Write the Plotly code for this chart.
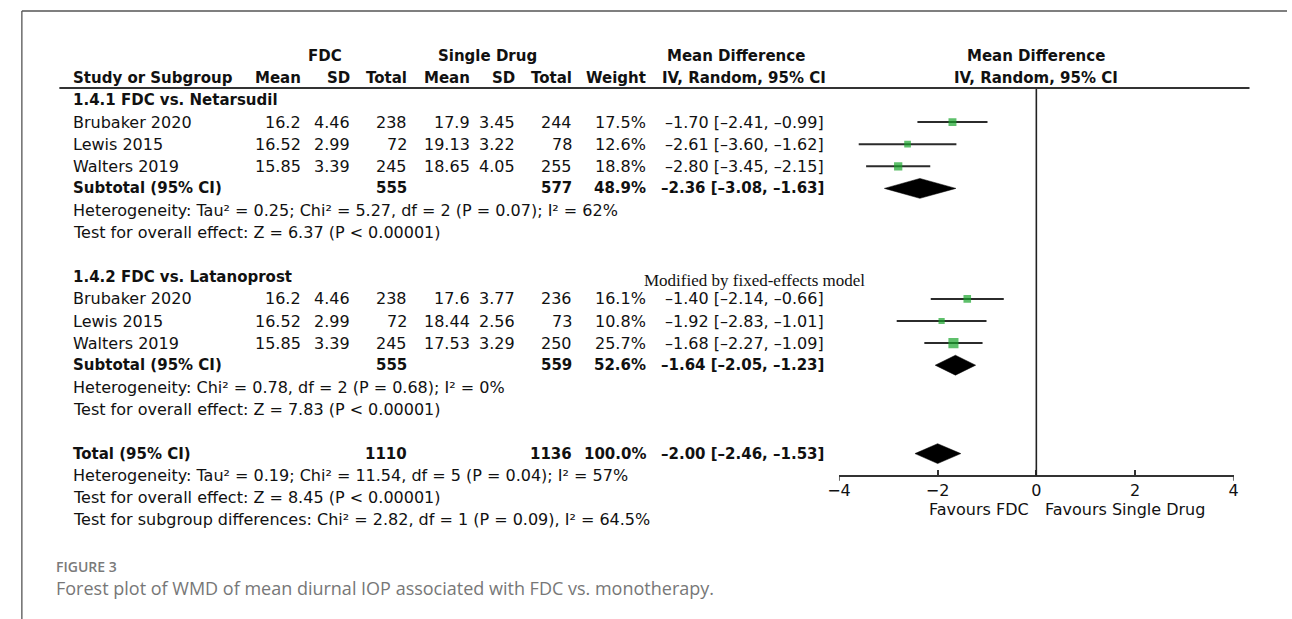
import plotly.graph_objects as go

# ---------------- data ----------------
study_names = ["Brubaker 2020", "Lewis 2015", "Walters 2019",
               "Brubaker 2020", "Lewis 2015", "Walters 2019"]
study_group = [0, 0, 0, 1, 1, 1]
fdc_mean = [16.2, 16.52, 15.85, 16.2, 16.52, 15.85]
fdc_sd = [4.46, 2.99, 3.39, 4.46, 2.99, 3.39]
fdc_total = [238, 72, 245, 238, 72, 245]
single_mean = [17.9, 19.13, 18.65, 17.6, 18.44, 17.53]
single_sd = [3.45, 3.22, 4.05, 3.77, 2.56, 3.29]
single_total = [244, 78, 255, 236, 73, 250]
weight_pct = [17.5, 12.6, 18.8, 16.1, 10.8, 25.7]
md = [-1.70, -2.61, -2.80, -1.40, -1.92, -1.68]
ci_low = [-2.41, -3.60, -3.45, -2.14, -2.83, -2.27]
ci_high = [-0.99, -1.62, -2.15, -0.66, -1.01, -1.09]

group_labels = ["1.4.1 FDC vs. Netarsudil", "1.4.2 FDC vs. Latanoprost"]
sub_fdc_total = [555, 555]
sub_single_total = [577, 559]
sub_weight = [48.9, 52.6]
sub_md = [-2.36, -1.64]
sub_low = [-3.08, -2.05]
sub_high = [-1.63, -1.23]
group_het = ["Heterogeneity: Tau² = 0.25; Chi² = 5.27, df = 2 (P = 0.07); I² = 62%",
             "Heterogeneity: Chi² = 0.78, df = 2 (P = 0.68); I² = 0%"]
group_test = ["Test for overall effect: Z = 6.37 (P < 0.00001)",
              "Test for overall effect: Z = 7.83 (P < 0.00001)"]
group_note = ["", "Modified by fixed-effects model"]

total_fdc = 1110
total_single = 1136
total_weight = 100.0
total_md = -2.00
total_low = -2.46
total_high = -1.53
total_notes = ["Heterogeneity: Tau² = 0.19; Chi² = 11.54, df = 5 (P = 0.04); I² = 57%",
               "Test for overall effect: Z = 8.45 (P < 0.00001)",
               "Test for subgroup differences: Chi² = 2.82, df = 1 (P = 0.09), I² = 64.5%"]

x_ticks = [-4, -2, 0, 2, 4]
x_tick_labels = ["−4", "−2", "0", "2", "4"]
favours_left = "Favours FDC"
favours_right = "Favours Single Drug"
figure_label = "FIGURE 3"
caption = "Forest plot of WMD of mean diurnal IOP associated with FDC vs. monotherapy."

# ---------------- layout constants ----------------
W, H = 1292, 619
ROW0_PX, ROW_PX = 100.0, 22.1
y_top = -ROW0_PX / ROW_PX
y_bot = (H - ROW0_PX) / ROW_PX
FONT = "DejaVu Sans"
TXT = "#111111"
REG, BLD = 16, 15
AXIS_ROW = 17

COL = dict(study=62, f_mean=293, f_sd=343, f_tot=400, s_mean=464, s_sd=510,
           s_tot=567, weight=642, md=823)


def fmt(v):
    return f"{v:.2f}".replace("-", "–")


def md_text(m, lo, hi):
    return f"{fmt(m)} [{fmt(lo)}, {fmt(hi)}]"


annotations = []


def cell(text, xpx, row, anchor="right", bold=False, size=None, family=FONT, color=TXT):
    annotations.append(dict(
        text=f"<b>{text}</b>" if bold else text,
        x=xpx / W, xref="paper", y=row, yref="y",
        xanchor=anchor, yanchor="middle", showarrow=False,
        borderpad=0, borderwidth=0,
        font=dict(family=family, size=size or (BLD if bold else REG), color=color)))


fig = go.Figure()

# headers
cell("FDC", 317, -2, "center", True)
cell("Single Drug", 482, -2, "center", True)
cell("Mean Difference", 734, -2, "center", True)
cell("Study or Subgroup", COL["study"], -1, "left", True)
cell("Mean", COL["f_mean"], -1, bold=True)
cell("SD", COL["f_sd"], -1, bold=True)
cell("Total", COL["f_tot"], -1, bold=True)
cell("Mean", COL["s_mean"], -1, bold=True)
cell("SD", COL["s_sd"], -1, bold=True)
cell("Total", COL["s_tot"], -1, bold=True)
cell("Weight", COL["weight"], -1, bold=True)
cell("IV, Random, 95% CI", 742, -1, "center", True)
for t, r in [("Mean Difference", -2), ("IV, Random, 95% CI", -1)]:
    annotations.append(dict(text=f"<b>{t}</b>", x=0, xref="x", y=r, yref="y",
                            xanchor="center", yanchor="middle", showarrow=False,
                            font=dict(family=FONT, size=BLD, color=TXT)))

# rows
study_rows = []
for g, glabel in enumerate(group_labels):
    base = g * 8
    cell(glabel, COL["study"], base, "left", True)
    idx = [i for i, sg in enumerate(study_group) if sg == g]
    for k, i in enumerate(idx):
        r = base + 1 + k
        study_rows.append(r)
        cell(study_names[i], COL["study"], r, "left")
        cell(str(fdc_mean[i]), COL["f_mean"], r)
        cell(f"{fdc_sd[i]:.2f}", COL["f_sd"], r)
        cell(str(fdc_total[i]), COL["f_tot"], r)
        cell(str(single_mean[i]), COL["s_mean"], r)
        cell(f"{single_sd[i]:.2f}", COL["s_sd"], r)
        cell(str(single_total[i]), COL["s_tot"], r)
        cell(f"{weight_pct[i]:.1f}%", COL["weight"], r)
        cell(md_text(md[i], ci_low[i], ci_high[i]), COL["md"], r)
    rs = base + 4
    cell("Subtotal (95% CI)", COL["study"], rs, "left", True)
    cell(str(sub_fdc_total[g]), COL["f_tot"], rs, bold=True)
    cell(str(sub_single_total[g]), COL["s_tot"], rs, bold=True)
    cell(f"{sub_weight[g]:.1f}%", COL["weight"], rs, bold=True)
    cell(md_text(sub_md[g], sub_low[g], sub_high[g]), COL["md"], rs, bold=True)
    cell(group_het[g], COL["study"], base + 5, "left")
    cell(group_test[g], COL["study"], base + 6, "left")
    if group_note[g]:
        cell(group_note[g], 640, base + 0.15, "left", size=17, family="Liberation Serif")

cell("Total (95% CI)", COL["study"], 16, "left", True)
cell(str(total_fdc), COL["f_tot"], 16, bold=True)
cell(str(total_single), COL["s_tot"], 16, bold=True)
cell(f"{total_weight:.1f}%", COL["weight"], 16, bold=True)
cell(md_text(total_md, total_low, total_high), COL["md"], 16, bold=True)
for k, t in enumerate(total_notes):
    cell(t, COL["study"], 17 + k, "left")

# forest: CI lines and squares
for i, r in zip(range(len(md)), study_rows):
    fig.add_trace(go.Scatter(x=[ci_low[i], ci_high[i]], y=[r, r], mode="lines",
                             line=dict(color="#2b2b2b", width=2), hoverinfo="skip"))
fig.add_trace(go.Scatter(x=md, y=study_rows, mode="markers",
                         marker=dict(symbol="square", color="#1aa52c",
                                     size=[3.4 + 0.26 * w for w in weight_pct],
                                     line=dict(width=0))))

# diamonds
dia = [(sub_md[0], sub_low[0], sub_high[0], 4), (sub_md[1], sub_low[1], sub_high[1], 12),
       (total_md, total_low, total_high, 16)]
for m, lo, hi, r in dia:
    fig.add_trace(go.Scatter(x=[lo, m, hi, m, lo], y=[r, r - 0.45, r, r + 0.45, r],
                             mode="lines", fill="toself", fillcolor="#000000",
                             line=dict(color="#000000", width=0.5), hoverinfo="skip"))

# end ticks of axis extending down
for xv in (x_ticks[0], x_ticks[-1]):
    fig.add_trace(go.Scatter(x=[xv, xv], y=[AXIS_ROW, AXIS_ROW + 0.23], mode="lines",
                             line=dict(color="#333333", width=1.5), hoverinfo="skip"))

# favours labels
annotations.append(dict(text=favours_left, x=0, xref="x", y=18.55, yref="y", xanchor="right",
                        xshift=-5, yanchor="middle", showarrow=False,
                        font=dict(family=FONT, size=REG, color=TXT)))
annotations.append(dict(text=favours_right, x=0, xref="x", y=18.55, yref="y", xanchor="left",
                        xshift=7, yanchor="middle", showarrow=False,
                        font=dict(family=FONT, size=REG, color=TXT)))

# caption
annotations.append(dict(text=figure_label, x=43 / W, xref="paper", y=1 - 566 / H, yref="paper",
                        xanchor="left", yanchor="middle", showarrow=False,
                        font=dict(family="Open Sans", size=14, color="#7a7a7a", weight=600)))
annotations.append(dict(text=caption, x=43 / W, xref="paper", y=1 - 588 / H, yref="paper",
                        xanchor="left", yanchor="middle", showarrow=False,
                        font=dict(family="Open Sans", size=18, color="#777777")))

axis_pos = (y_bot - AXIS_ROW) / (y_bot - y_top)

shapes = [
    # zero line
    dict(type="line", xref="x", yref="y", x0=0, x1=0, y0=-0.54, y1=AXIS_ROW,
         line=dict(color="#222222", width=1.6)),
    # header rule
    dict(type="line", xref="paper", yref="y", x0=48 / W, x1=1254 / W, y0=-0.54, y1=-0.54,
         line=dict(color="#333333", width=2)),
    # frame top and left
    dict(type="line", xref="paper", yref="paper", x0=10 / W, x1=1, y0=1 - 11 / H, y1=1 - 11 / H,
         line=dict(color="#555555", width=1.3)),
    dict(type="line", xref="paper", yref="paper", x0=10 / W, x1=10 / W, y0=0, y1=1 - 11 / H,
         line=dict(color="#555555", width=1.3)),
]

fig.update_layout(
    width=W, height=H, autosize=False,
    margin=dict(l=0, r=0, t=0, b=0),
    paper_bgcolor="white", plot_bgcolor="white",
    showlegend=False,
    font=dict(family=FONT, size=REG, color=TXT),
    xaxis=dict(domain=[838 / W, 1238 / W], range=[-4, 4], anchor="free", position=axis_pos,
               showline=True, linecolor="#333333", linewidth=1.5,
               ticks="inside", ticklen=5, tickwidth=1.5, tickcolor="#333333",
               tickvals=x_ticks, ticktext=x_tick_labels,
               tickfont=dict(family=FONT, size=REG, color=TXT),
               showgrid=False, zeroline=False, fixedrange=True),
    yaxis=dict(domain=[0, 1], range=[y_bot, y_top], visible=False, fixedrange=True),
    annotations=annotations,
    shapes=shapes,
)

fig.write_html("out.html", config={"displayModeBar": False},
               post_script="document.body.style.margin='0';document.body.style.overflow='hidden';")
